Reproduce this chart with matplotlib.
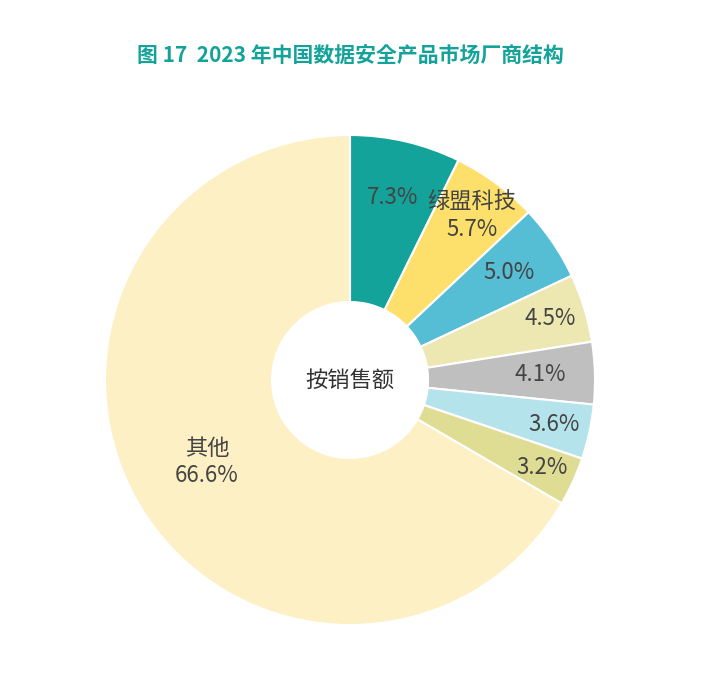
import matplotlib
matplotlib.use("Agg")
import matplotlib.pyplot as plt
from matplotlib import font_manager
import numpy as np

cands = [f.name for f in font_manager.fontManager.ttflist if 'CJK' in f.name or 'Noto Sans SC' in f.name]
plt.rcParams['font.family'] = ['sans-serif']
plt.rcParams['font.sans-serif'] = ['Noto Sans CJK SC', 'Noto Sans CJK JP', 'Noto Sans CJK TC', 'Noto Sans CJK KR'] + cands + ['DejaVu Sans']

labels = ["", "绿盟科技", "", "", "", "", "", "其他"]
values = [7.3, 5.7, 5.0, 4.5, 4.1, 3.6, 3.2, 66.6]
colors = ["#14a39a", "#fde06b", "#55bdd4", "#ede8b2", "#bfbfbf", "#b5e3ec", "#dfdd94", "#fdf0c5"]
label_r = [187, 205, 192, 209, 190, 209, 211, 165]

fig = plt.figure(figsize=(7.05, 6.98), dpi=100)
ax = fig.add_axes([0, 0, 1, 1])
ax.set_xlim(0, 705); ax.set_ylim(0, 698); ax.set_aspect('equal'); ax.axis('off')
cx, cy, R, r = 350, 318, 245, 78
wedges, _ = ax.pie(values, colors=colors, startangle=90, counterclock=False, radius=R,
                   center=(cx, cy), wedgeprops=dict(width=R - r, edgecolor='white', linewidth=1.5))
ax.set_xlim(0, 705); ax.set_ylim(0, 698)
for w, lab, v, lr in zip(wedges, labels, values, label_r):
    a = np.deg2rad((w.theta1 + w.theta2) / 2)
    x, y = cx + lr * np.cos(a), cy + lr * np.sin(a)
    txt = f"{lab}\n{v:.1f}%" if lab else f"{v:.1f}%"
    ax.text(x, y, txt, ha='center', va='center', fontsize=16, color='#444444', linespacing=1.25)
ax.text(cx, cy, "按销售额", ha='center', va='center', fontsize=16, color='#333333')
ax.text(350, 698 - 55, "图 17  2023 年中国数据安全产品市场厂商结构", ha='center', va='center',
        fontsize=15, color='#14a39a', fontweight='bold')
fig.savefig("out.png", dpi=100)
